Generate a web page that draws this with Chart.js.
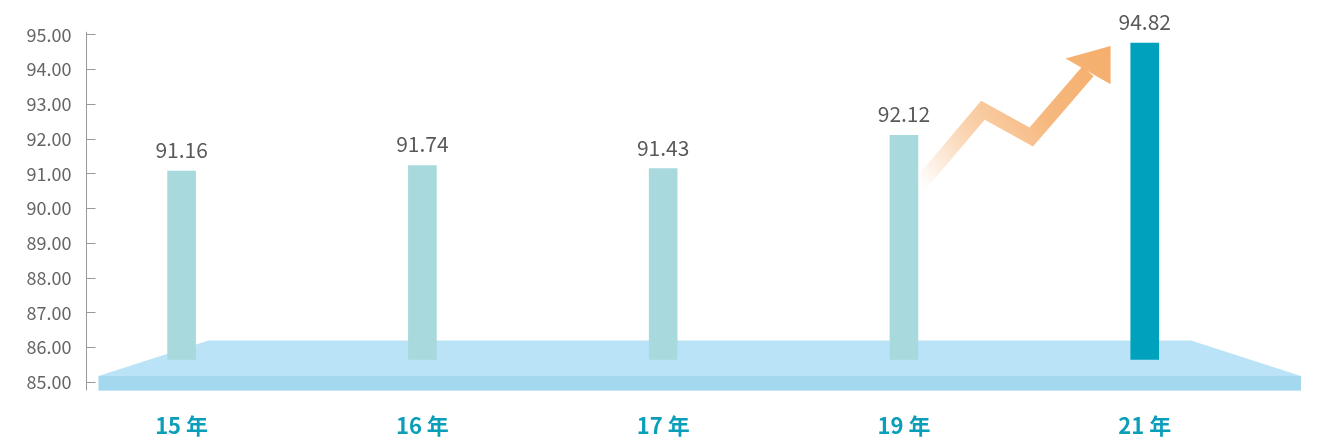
<!DOCTYPE html>
<html>
<head>
<meta charset="utf-8">
<script src="https://cdn.jsdelivr.net/npm/chart.js@4/dist/chart.umd.min.js"></script>
<style>
    html, body { margin: 0; padding: 0; background: #fff; }
</style>
</head>
<body>
<canvas id="chart" width="1319" height="441"></canvas>
<script>
// chart values
var categories = ['15 年', '16 年', '17 年', '19 年', '21 年'];
var valueLabels = ['91.16', '91.74', '91.43', '92.12', '94.82'];
var barTops = [91.08, 91.24, 91.15, 92.11, 94.76];
var barBase = 85.66;
var yMin = 85;
var yMax = 95;
var yStep = 1;

var FONT = '"Noto Sans CJK SC", "Noto Sans", sans-serif';

// platform under the bars + axis line extension
var platformPlugin = {
    id: 'platform',
    beforeDatasetsDraw: function (chart) {
        var ctx = chart.ctx;
        var area = chart.chartArea;
        var y = chart.scales.y;
        var left = area.left + 12;
        var right = area.right;
        var topY = y.getPixelForValue(86.2);
        var midY = y.getPixelForValue(85.18);
        var botY = y.getPixelForValue(84.76);

        ctx.save();
        ctx.fillStyle = '#BBE3F8';
        ctx.beginPath();
        ctx.moveTo(left, midY);
        ctx.lineTo(left + 110, topY);
        ctx.lineTo(right - 110, topY);
        ctx.lineTo(right, midY);
        ctx.closePath();
        ctx.fill();

        ctx.fillStyle = '#A3D8EE';
        ctx.fillRect(left, midY, right - left, botY - midY);

        // axis line runs a bit past the 85 tick
        var ax = Math.round(area.left) - 0.5;
        ctx.strokeStyle = '#9a9a9a';
        ctx.lineWidth = 1;
        ctx.beginPath();
        ctx.moveTo(ax, area.bottom);
        ctx.lineTo(ax, area.bottom + 8);
        ctx.moveTo(ax, area.top);
        ctx.lineTo(ax, area.top - 3);
        ctx.stroke();
        ctx.restore();
    }
};

// rising arrow next to the last bar
var arrowPlugin = {
    id: 'arrow',
    afterDatasetsDraw: function (chart) {
        var ctx = chart.ctx;
        var x = chart.scales.x;
        var y = chart.scales.y;
        function p(i, v) { return [x.getPixelForValue(i), y.getPixelForValue(v)]; }

        var shaft = [p(3.066, 90.69), p(3.328, 92.83), p(3.529, 92.06), p(3.764, 93.95)];
        var head = [p(3.671, 94.32), p(3.858, 94.68), p(3.858, 93.58)];

        var g = ctx.createLinearGradient(shaft[0][0], shaft[0][1], head[1][0], head[1][1]);
        g.addColorStop(0, 'rgba(245,174,108,0)');
        g.addColorStop(0.3, 'rgba(245,174,108,0.55)');
        g.addColorStop(0.6, 'rgba(245,174,108,0.88)');
        g.addColorStop(1, 'rgba(245,174,108,1)');

        ctx.save();
        ctx.strokeStyle = g;
        ctx.fillStyle = g;
        ctx.lineWidth = 15;
        ctx.lineJoin = 'miter';
        ctx.lineCap = 'butt';
        ctx.beginPath();
        ctx.moveTo(shaft[0][0], shaft[0][1]);
        for (var k = 1; k < shaft.length; k++) {
            ctx.lineTo(shaft[k][0], shaft[k][1]);
        }
        ctx.stroke();

        ctx.beginPath();
        ctx.moveTo(head[0][0], head[0][1]);
        ctx.lineTo(head[1][0], head[1][1]);
        ctx.lineTo(head[2][0], head[2][1]);
        ctx.closePath();
        ctx.fill();
        ctx.restore();
    }
};

// value text above each bar
var valuePlugin = {
    id: 'values',
    afterDatasetsDraw: function (chart) {
        var ctx = chart.ctx;
        var meta = chart.getDatasetMeta(0);
        ctx.save();
        ctx.fillStyle = '#595959';
        ctx.font = '21px ' + FONT;
        ctx.textAlign = 'center';
        ctx.textBaseline = 'alphabetic';
        meta.data.forEach(function (bar, i) {
            ctx.fillText(valueLabels[i], bar.x, bar.y - 13);
        });
        ctx.restore();
    }
};

var barColors = categories.map(function (c, i) {
    return i === categories.length - 1 ? '#00A1BC' : '#A8D9DD';
});

var data = {
    datasets: [{
        data: barTops.map(function (v, i) { return { x: i, y: v }; }),
        base: barBase,
        backgroundColor: barColors,
        borderWidth: 0,
        barThickness: 28
    }]
};

new Chart(document.getElementById('chart'), {
    type: 'bar',
    data: data,
    options: {
        responsive: false,
        animation: false,
        layout: {
            padding: { top: 28, left: 24.5, right: 18, bottom: 2.7 }
        },
        plugins: {
            legend: { display: false },
            tooltip: { enabled: false }
        },
        scales: {
            x: {
                type: 'linear',
                offset: false,
                min: -0.395,
                max: 4.649,
                grid: { display: false, drawTicks: false },
                border: { display: false },
                afterBuildTicks: function (scale) {
                    scale.ticks = categories.map(function (c, i) { return { value: i }; });
                },
                afterFit: function (scale) { scale.height = 56; },
                ticks: {
                    autoSkip: false,
                    maxRotation: 0,
                    padding: 30,
                    color: '#0A9EB8',
                    font: { family: FONT, size: 22, weight: 'bold' },
                    callback: function (v) { return categories[v]; }
                }
            },
            y: {
                min: yMin,
                max: yMax,
                grid: {
                    drawOnChartArea: false,
                    tickLength: -9,
                    color: '#9a9a9a'
                },
                border: { display: true, color: '#9a9a9a', width: 1 },
                afterFit: function (scale) { scale.width = 62; },
                ticks: {
                    stepSize: yStep,
                    padding: 24,
                    color: '#666666',
                    font: { family: FONT, size: 18 },
                    callback: function (v) { return v.toFixed(2); }
                }
            }
        }
    },
    plugins: [platformPlugin, arrowPlugin, valuePlugin]
});
</script>
</body>
</html>
